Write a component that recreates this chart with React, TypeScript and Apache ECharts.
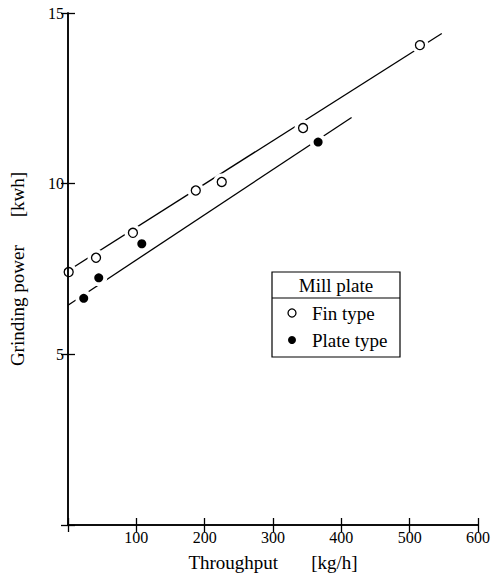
import React, { useEffect, useRef } from "react";
import * as echarts from "echarts";

const finX = [1, 41, 95, 187, 225, 344, 515];
const finY = [7.41, 7.83, 8.56, 9.8, 10.05, 11.63, 14.06];
const plateX = [23, 45, 108, 366];
const plateY = [6.64, 7.24, 8.24, 11.22];
const finLineX = [0, 547];
const finLineY = [7.45, 14.4];
const plateLineX = [0, 415];
const plateLineY = [6.44, 11.94];

const xTicks = [0, 100, 200, 300, 400, 500, 600];
const yTicks = [0, 5, 10, 15];

const FONT = "Liberation Serif";

const pairs = (xs: number[], ys: number[]) => xs.map((x, i) => [x, ys[i]]);

export default function App() {
  const ref = useRef<HTMLDivElement>(null);
  useEffect(() => {
    if (!ref.current) return;
    const chart = echarts.init(ref.current, undefined, { renderer: "svg" });
    const axisLine = { show: true, lineStyle: { color: "#000", width: 1.5 } };
    const tick = { show: true, inside: true, length: 7, lineStyle: { color: "#000", width: 1.3 } };
    chart.setOption({
      animation: false,
      backgroundColor: "#fff",
      textStyle: { fontFamily: FONT },
      grid: { left: 66, right: 12, top: 13, bottom: 51, containLabel: false },
      xAxis: [
        {
          type: "value",
          min: xTicks[0],
          max: xTicks[xTicks.length - 1],
          interval: 100,
          position: "bottom",
          z: 10,
          axisLine,
          axisTick: tick,
          splitLine: { show: false },
          axisLabel: {
            color: "#000",
            fontFamily: FONT,
            fontSize: 16,
            margin: 4,
            formatter: (v: number) => (v === 0 ? "" : String(v)),
          },
          name: "{a|Throughput}{b|[kg/h]}",
          nameLocation: "middle",
          nameGap: 28,
          nameTextStyle: {
            fontFamily: FONT,
            rich: {
              a: { fontFamily: FONT, fontSize: 19, color: "#000" },
              b: { fontFamily: FONT, fontSize: 19, color: "#000", padding: [0, 0, 0, 33] },
            },
          },
        },
        {
          type: "value",
          min: xTicks[0],
          max: xTicks[xTicks.length - 1],
          interval: 100,
          position: "top",
          z: 10,
          axisLine,
          axisTick: tick,
          splitLine: { show: false },
          axisLabel: { show: false },
        },
      ],
      yAxis: [
        {
          type: "value",
          min: yTicks[0],
          max: yTicks[yTicks.length - 1],
          interval: 5,
          position: "left",
          z: 10,
          axisLine,
          axisTick: tick,
          splitLine: { show: false },
          axisLabel: {
            color: "#000",
            fontFamily: FONT,
            fontSize: 16,
            margin: 4,
            formatter: (v: number) => (v === 0 ? "" : String(v)),
          },
          name: "{a|Grinding power}{b|[kwh]}",
          nameLocation: "middle",
          nameRotate: 90,
          nameGap: 41,
          nameTextStyle: {
            fontFamily: FONT,
            rich: {
              a: { fontFamily: FONT, fontSize: 19, color: "#000" },
              b: { fontFamily: FONT, fontSize: 19, color: "#000", padding: [0, 0, 0, 28] },
            },
          },
        },
        {
          type: "value",
          min: yTicks[0],
          max: yTicks[yTicks.length - 1],
          interval: 5,
          position: "right",
          z: 10,
          axisLine,
          axisTick: tick,
          splitLine: { show: false },
          axisLabel: { show: false },
        },
      ],
      series: [
        {
          type: "line",
          data: pairs(finLineX, finLineY),
          symbol: "none",
          lineStyle: { color: "#000", width: 1.3 },
          z: 2,
          silent: true,
        },
        {
          type: "line",
          data: pairs(plateLineX, plateLineY),
          symbol: "none",
          lineStyle: { color: "#000", width: 1.3 },
          z: 2,
          silent: true,
        },
        {
          type: "scatter",
          data: [...pairs(finX, finY), ...pairs(plateX, plateY)],
          symbol: "circle",
          symbolSize: 17,
          itemStyle: { color: "#fff", borderWidth: 0, opacity: 1 },
          clip: false,
          z: 3,
          silent: true,
        },
        {
          type: "scatter",
          name: "Fin type",
          data: pairs(finX, finY),
          symbol: "circle",
          symbolSize: 9,
          itemStyle: { color: "#fff", borderColor: "#000", borderWidth: 1.3, opacity: 1 },
          clip: false,
          z: 4,
        },
        {
          type: "scatter",
          name: "Plate type",
          data: pairs(plateX, plateY),
          symbol: "circle",
          symbolSize: 9,
          itemStyle: { color: "#000", opacity: 1 },
          clip: false,
          z: 4,
        },
      ],
      graphic: [
        {
          type: "rect",
          shape: { x: 272, y: 272, width: 128, height: 85 },
          style: { fill: "#fff", stroke: "#000", lineWidth: 1.2 },
          z: 20,
        },
        {
          type: "line",
          shape: { x1: 272, y1: 298, x2: 400, y2: 298 },
          style: { stroke: "#000", lineWidth: 1.2 },
          z: 21,
        },
        {
          type: "text",
          x: 336,
          y: 285,
          style: { text: "Mill plate", fill: "#000", font: `19px "${FONT}"`, align: "center", verticalAlign: "middle" },
          z: 21,
        },
        {
          type: "circle",
          shape: { cx: 292, cy: 313, r: 4 },
          style: { fill: "#fff", stroke: "#000", lineWidth: 1.3 },
          z: 21,
        },
        {
          type: "text",
          x: 312,
          y: 313,
          style: { text: "Fin type", fill: "#000", font: `19px "${FONT}"`, align: "left", verticalAlign: "middle" },
          z: 21,
        },
        {
          type: "circle",
          shape: { cx: 292, cy: 340, r: 4 },
          style: { fill: "#000" },
          z: 21,
        },
        {
          type: "text",
          x: 312,
          y: 340,
          style: { text: "Plate type", fill: "#000", font: `19px "${FONT}"`, align: "left", verticalAlign: "middle" },
          z: 21,
        },
      ],
    });
    return () => chart.dispose();
  }, []);
  return (
    <div
      ref={ref}
      style={{ position: "fixed", left: 0, top: 0, width: 493, height: 577, background: "#fff" }}
    />
  );
}
